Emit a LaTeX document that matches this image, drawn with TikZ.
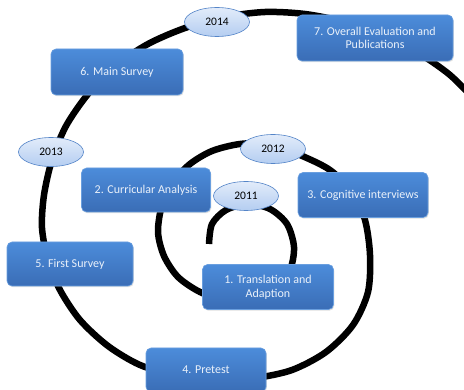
\documentclass[tikz,border=0pt]{standalone}
\usepackage{fontspec}
\setmainfont{Carlito}
\usetikzlibrary{shapes.geometric,shadows}
\definecolor{boxtop}{HTML}{4C8CDA}
\definecolor{boxbot}{HTML}{3A6DB6}
\definecolor{boxline}{HTML}{6A9FDF}
\definecolor{boxtext}{HTML}{EAF1FA}
\definecolor{yrtop}{HTML}{E2ECFA}
\definecolor{yrbot}{HTML}{B4CDF1}
\definecolor{yrline}{HTML}{5585C8}
\begin{document}
\begin{tikzpicture}[x=1pt,y=-1pt,
	stage/.style={rectangle, rounded corners=5pt, top color=boxtop, bottom color=boxbot,
		draw=boxline, line width=0.6pt, text=boxtext, align=center, inner sep=0pt,
		font=\fontsize{12}{13.7}\selectfont,
		drop shadow={opacity=0.25, shadow xshift=0.8pt, shadow yshift=-1.2pt}},
	year/.style={ellipse, top color=yrtop, bottom color=yrbot, draw=yrline,
		line width=0.6pt, inner sep=0pt, minimum width=65pt, minimum height=29pt,
		font=\fontsize{11.5}{12}\selectfont},
	spiral/.style={line width=6.5pt, black}]
	\useasboundingbox (0,0) rectangle (464,390);
	
	\draw[spiral] plot[smooth] coordinates {(209,244) (212,224) (226,210) (248,204)
		(270,209) (287,224) (294,247) (290,270) (276,288) (252,299) (225,300)
		(200,292) (178,277) (164,256) (158,232) (162,205) (173,182) (190,164)
		(212,151) (240,144) (270,144) (300,155) (330,170) (352,192) (365,220)
		(370,255) (368,292) (353,325) (326,352) (292,370) (255,378) (215,380)
		(175,375) (140,365) (108,346) (80,320) (60,290) (48,260) (42,228)
		(44,195) (52,160) (66,126) (88,94) (115,66) (148,44) (185,28) (225,17)
		(265,12) (305,14) (345,22) (385,36) (420,54) (450,75) (475,100)};
	
	\node[stage, minimum width=131pt, minimum height=45pt] (st1) at (268,287) {1. Translation and\\Adaption};
	\node[stage, minimum width=129pt, minimum height=44pt] (st2) at (146,190) {2. Curricular Analysis};
	\node[stage, minimum width=130pt, minimum height=45pt] (st3) at (363,195) {3. Cognitive interviews};
	\node[stage, minimum width=120pt, minimum height=44pt] (st4) at (206,370) {4. Pretest};
	\node[stage, minimum width=126pt, minimum height=44pt] (st5) at (70,264) {5. First Survey};
	\node[stage, minimum width=132pt, minimum height=46pt] (st6) at (117,72) {6. Main Survey};
	\node[stage, minimum width=156pt, minimum height=46pt] (st7) at (375,38) {7. Overall Evaluation and\\Publications};
	
	\node[year] (yr11) at (246,196) {2011};
	\node[year] (yr12) at (273,149) {2012};
	\node[year] (yr13) at (51,152) {2013};
	\node[year] (yr14) at (217,22) {2014};
\end{tikzpicture}
\end{document}
